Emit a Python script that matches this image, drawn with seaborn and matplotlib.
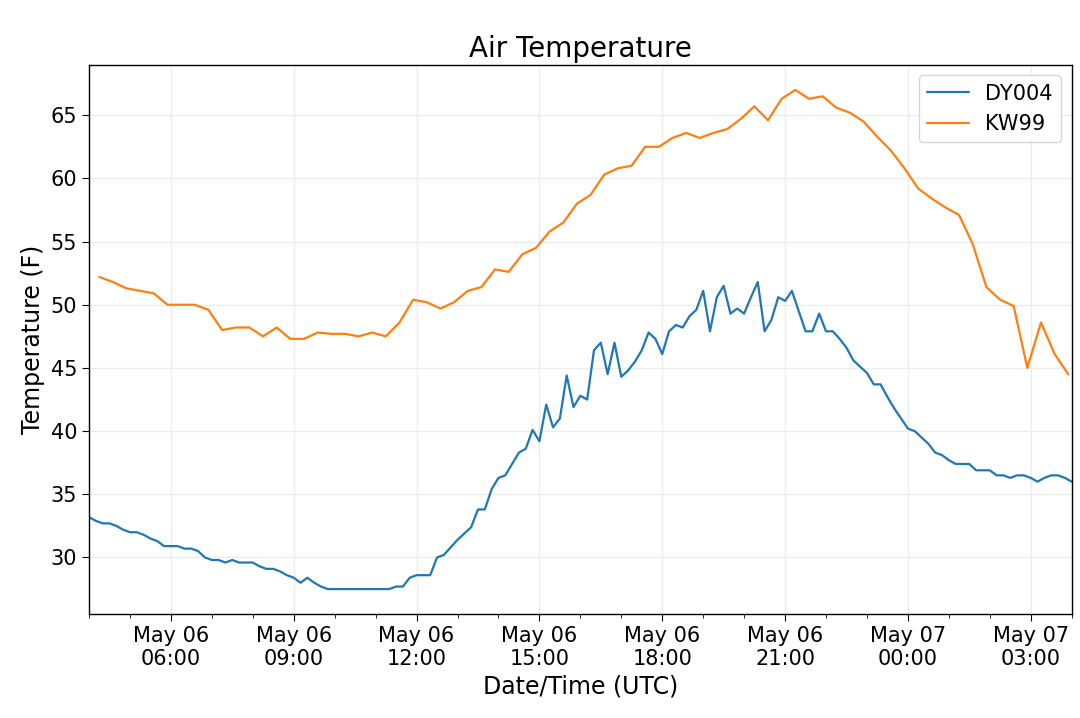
import pandas as pd
import seaborn as sns
import matplotlib.pyplot as plt
import matplotlib.dates as mdates

# DY004: every 10 minutes, 2019-05-06 04:00 -> 2019-05-07 04:00 (UTC)
dy004_start = '2019-05-06 04:00'
dy004_temp = [
    33.2, 32.9, 32.7, 32.7, 32.5, 32.2, 32.0, 32.0, 31.8, 31.5, 31.3, 30.9,
    30.9, 30.9, 30.7, 30.7, 30.5, 30.0, 29.8, 29.8, 29.6, 29.8, 29.6, 29.6,
    29.6, 29.3, 29.1, 29.1, 28.9, 28.6, 28.4,
    28.0, 28.4, 28.0, 27.7, 27.5,
    27.5, 27.5, 27.5, 27.5, 27.5, 27.5, 27.5, 27.5, 27.5,
    27.7, 27.7, 28.4, 28.6, 28.6, 28.6, 30.0, 30.2, 30.8, 31.4, 31.9, 32.4,
    33.8, 33.8,
    35.4, 36.3, 36.5, 37.4, 38.3, 38.6, 40.1, 39.2, 42.1, 40.3, 41.0, 44.4,
    41.9, 42.8, 42.5, 46.4, 47.0, 44.5, 47.0, 44.3, 44.8, 45.5, 46.4, 47.8,
    47.3, 46.1,
    47.9, 48.4, 48.2, 49.1, 49.6, 51.1, 47.9, 50.6, 51.5, 49.3, 49.7, 49.3,
    50.6, 51.8, 47.9, 48.8, 50.6, 50.3, 51.1, 49.5, 47.9, 47.9, 49.3, 47.9,
    47.9, 47.3, 46.6, 45.6,
    45.1, 44.6, 43.7, 43.7, 42.7, 41.8, 41.0, 40.2, 40.0, 39.5, 39.0, 38.3,
    38.1, 37.7, 37.4, 37.4, 37.4, 36.9, 36.9, 36.9, 36.5, 36.5, 36.3, 36.5,
    36.5, 36.3, 36.0, 36.3, 36.5, 36.5, 36.3, 36.0,
]

# KW99: every 20 minutes, 2019-05-06 04:15 -> 2019-05-07 03:55 (UTC)
kw99_start = '2019-05-06 04:15'
kw99_temp = [
    52.2, 51.8, 51.3, 51.1, 50.9, 50.0, 50.0, 50.0, 49.6, 48.0, 48.2, 48.2,
    47.5, 48.2, 47.3, 47.3, 47.8, 47.7, 47.7, 47.5, 47.8, 47.5, 48.6, 50.4,
    50.2, 49.7, 50.2, 51.1, 51.4,
    52.8, 52.6, 54.0, 54.5, 55.8, 56.5, 58.0, 58.7, 60.3, 60.8, 61.0, 62.5,
    62.5, 63.2, 63.6, 63.2, 63.6, 63.9, 64.7, 65.7,
    64.6, 66.3, 67.0, 66.3, 66.5, 65.6, 65.2, 64.5, 63.3, 62.2, 60.8, 59.2,
    58.4, 57.7, 57.1, 54.8, 51.4, 50.4, 49.9, 45.0, 48.6, 46.1, 44.5,
]

dy = pd.DataFrame({
    'time': pd.date_range(dy004_start, periods=len(dy004_temp), freq='10min'),
    'temp': dy004_temp, 'station': 'DY004'})
kw = pd.DataFrame({
    'time': pd.date_range(kw99_start, periods=len(kw99_temp), freq='20min'),
    'temp': kw99_temp, 'station': 'KW99'})
df = pd.concat([dy, kw], ignore_index=True)

sns.set_style('ticks')
plt.rcParams['font.family'] = ['DejaVu Sans']
plt.rcParams['text.color'] = 'black'
plt.rcParams['axes.labelcolor'] = 'black'
plt.rcParams['xtick.color'] = 'black'
plt.rcParams['ytick.color'] = 'black'

fig = plt.figure(figsize=(10.8, 7.18), dpi=100)
ax = fig.add_axes([0.0824, 0.1448, 0.9099, 0.7647])

sns.lineplot(data=df, x='time', y='temp', hue='station', palette=['#1f77b4', '#ff7f0e'],
             linewidth=1.6, ax=ax)

ax.set_xlim(df.time.min(), df.time.max())
ax.xaxis.set_major_locator(mdates.HourLocator(byhour=[0, 3, 6, 9, 12, 15, 18, 21]))
ax.xaxis.set_minor_locator(mdates.HourLocator())
ax.xaxis.set_major_formatter(mdates.DateFormatter('%b %d\n%H:%M'))

ax.grid(True, which='major', color='#ececec', linewidth=1.0)
for side in ['top', 'right', 'bottom', 'left']:
    ax.spines[side].set_color('black')
    ax.spines[side].set_linewidth(1.0)
ax.tick_params(axis='both', which='major', labelsize=15, length=5, color='black')
ax.tick_params(axis='x', which='minor', length=3, color='black')

ax.set_title('Air Temperature', fontsize=20)
ax.set_xlabel('Date/Time (UTC)', fontsize=17)
ax.set_ylabel('Temperature (F)', fontsize=17)
ax.legend(loc='upper right', fontsize=15, title=None)

fig.savefig('out.png', dpi=100)
